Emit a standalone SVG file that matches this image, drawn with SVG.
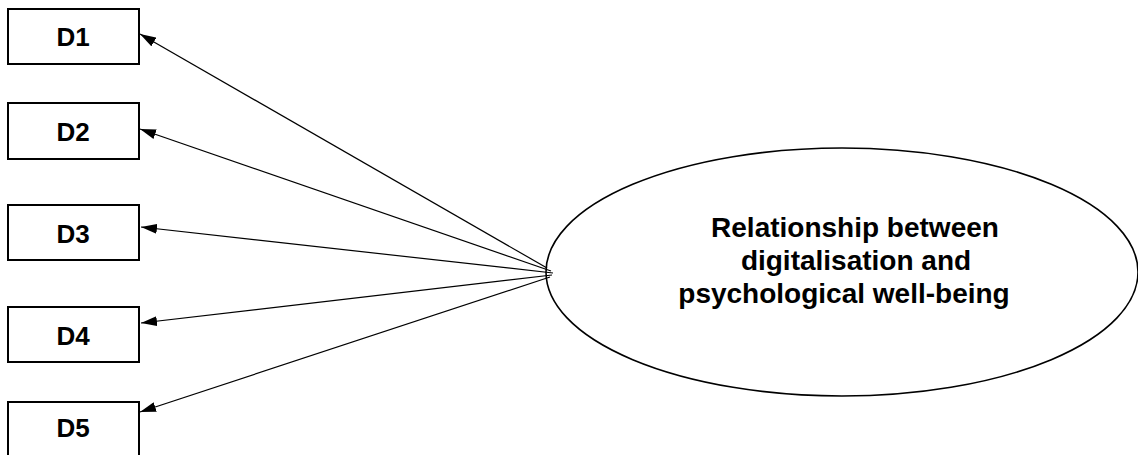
<svg xmlns="http://www.w3.org/2000/svg" width="1138" height="455" viewBox="0 0 1138 455">
<defs>
<style>
.box{fill:#fff;stroke:#000;stroke-width:2}
.lbl{font-family:"Liberation Sans",Arial,sans-serif;font-weight:bold;font-size:26px;fill:#000;text-anchor:middle}
.big{font-size:28px}
.conn{stroke:#000;stroke-width:1.2;fill:none;marker-end:url(#ah)}
</style>
<marker id="ah" viewBox="0 0 16 10" refX="16" refY="5" markerWidth="16" markerHeight="10" markerUnits="userSpaceOnUse" orient="auto">
<path d="M0,0 L16,5 L0,10 Z" fill="#000"/>
</marker>
</defs>
<rect width="1138" height="455" fill="#fff"/>
<g id="D1"><rect class="box" x="8" y="9" width="131" height="55"/><text class="lbl" x="73" y="46">D1</text></g>
<g id="D2"><rect class="box" x="8" y="103" width="131" height="56"/><text class="lbl" x="73" y="141">D2</text></g>
<g id="D3"><rect class="box" x="8" y="205" width="131" height="55"/><text class="lbl" x="73" y="243">D3</text></g>
<g id="D4"><rect class="box" x="8" y="307" width="131" height="55"/><text class="lbl" x="73" y="345">D4</text></g>
<g id="D5"><rect class="box" x="8" y="402" width="131" height="55"/><text class="lbl" x="73" y="437">D5</text></g>
<g id="main">
<ellipse cx="842" cy="272" rx="296" ry="124" fill="#fff" stroke="#000" stroke-width="1.6"/>
<text class="lbl big" x="855" y="237">Relationship between</text>
<text class="lbl big" x="856" y="270">digitalisation and</text>
<text class="lbl big" x="844" y="303">psychological well-being</text>
</g>
<g id="connectors">
<line class="conn" x1="547" y1="268" x2="140" y2="34"/>
<line class="conn" x1="551" y1="271" x2="140" y2="129"/>
<line class="conn" x1="553" y1="273" x2="141" y2="227"/>
<line class="conn" x1="552" y1="275" x2="141" y2="323"/>
<line class="conn" x1="550" y1="277" x2="140" y2="412"/>
</g>
</svg>
